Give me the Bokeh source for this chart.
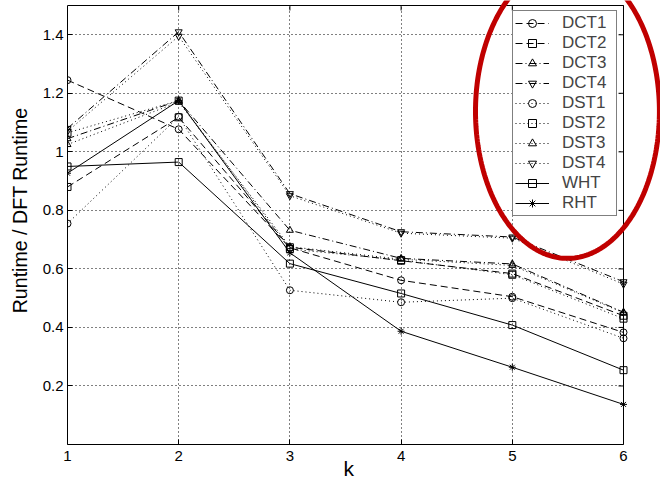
import numpy as np
from bokeh.plotting import figure
from bokeh.models import (Range1d, FixedTicker, CustomJSTickFormatter, Grid, BoxAnnotation,
                          Legend, LegendItem, PolyAnnotation, Title)
from bokeh.embed import file_html
from bokeh.resources import INLINE

# ---- data ----
k = [1, 2, 3, 4, 5, 6]
names = ["DCT1", "DCT2", "DCT3", "DCT4", "DST1", "DST2", "DST3", "DST4", "WHT", "RHT"]
dct1 = [1.245, 1.077, 0.672, 0.561, 0.505, 0.383]
dct2 = [0.880, 1.118, 0.674, 0.628, 0.584, 0.440]
dct3 = [1.045, 1.175, 0.732, 0.636, 0.617, 0.452]
dct4 = [1.080, 1.410, 0.857, 0.727, 0.709, 0.556]
dst1 = [0.755, 1.120, 0.527, 0.486, 0.500, 0.363]
dst2 = [1.065, 1.175, 0.668, 0.630, 0.580, 0.430]
dst3 = [1.025, 1.170, 0.676, 0.633, 0.612, 0.450]
dst4 = [1.070, 1.395, 0.850, 0.722, 0.705, 0.548]
wht = [0.950, 0.965, 0.618, 0.516, 0.408, 0.254]
rht = [0.927, 1.175, 0.655, 0.387, 0.264, 0.137]
values = [dct1, dct2, dct3, dct4, dst1, dst2, dst3, dst4, wht, rht]
x_ticks = [1, 2, 3, 4, 5, 6]
y_ticks = [0.2, 0.4, 0.6, 0.8, 1.0, 1.2, 1.4]
X_MIN, X_MAX, Y_MIN, Y_MAX = 1, 6, 0, 1.5
x_title = "k"
y_title = "Runtime / DFT Runtime"

# ---- layout / styles ----
BOX_W, BOX_H = 556, 439          # pixel size of the axes box
PAD_RIGHT, PAD_TOP = 37, 5       # canvas space right of / above the box
UX = (X_MAX - X_MIN) / BOX_W     # data units per pixel
UY = (Y_MAX - Y_MIN) / BOX_H
DASH = "7 4"
DASHDOT = "7 3 1 3"
DOT = "1 3"
line_dashes = [DASH, DASH, DASHDOT, DASHDOT, DOT, DOT, DOT, DOT, "solid", "solid"]
markers = ["circle", "square", "triangle", "inverted_triangle",
           "circle", "square", "triangle", "inverted_triangle", "square", "asterisk"]
FONT = "Liberation Sans"

# the frame reaches the right and top edges of the canvas so that the red ellipse
# is not cut off; the axes box itself is drawn at [X_MIN, X_MAX] x [Y_MIN, Y_MAX]
p = figure(width=660, height=483, output_backend="svg", toolbar_location=None,
           x_range=Range1d(X_MIN, X_MAX + PAD_RIGHT * UX),
           y_range=Range1d(Y_MIN, Y_MAX + PAD_TOP * UY),
           min_border_left=67, min_border_right=0, min_border_top=0, min_border_bottom=39,
           background_fill_color="white", border_fill_color="white")
p.outline_line_color = None

grid_props = Grid.properties()
for g in (p.xgrid[0], p.ygrid[0]):
    g.grid_line_color = "black"
    g.grid_line_dash = "1 3"
    g.grid_line_width = 1
p.xgrid[0].ticker = FixedTicker(ticks=x_ticks)
p.ygrid[0].ticker = FixedTicker(ticks=y_ticks)
if "cross_bounds" in grid_props:
    p.xgrid[0].cross_bounds = (Y_MIN, Y_MAX)
    p.ygrid[0].cross_bounds = (X_MIN, X_MAX)
else:
    p.add_layout(BoxAnnotation(bottom=Y_MAX, fill_color="white", fill_alpha=1,
                               line_color=None, level="underlay"))
    p.add_layout(BoxAnnotation(left=X_MAX, fill_color="white", fill_alpha=1,
                               line_color=None, level="underlay"))

# top and right edges of the box, with inward ticks
p.segment(x0=[X_MIN, X_MAX], y0=[Y_MAX, Y_MIN], x1=[X_MAX, X_MAX], y1=[Y_MAX, Y_MAX],
          line_color="black", line_width=1)
p.segment(x0=x_ticks, x1=x_ticks, y0=[Y_MAX] * len(x_ticks), y1=[Y_MAX - 5 * UY] * len(x_ticks),
          line_color="black", line_width=1)
p.segment(x0=[X_MAX] * len(y_ticks), x1=[X_MAX - 5 * UX] * len(y_ticks), y0=y_ticks, y1=y_ticks,
          line_color="black", line_width=1)

items = []
for name, vals, dash, mk in zip(names, values, line_dashes, markers):
    lr = p.line(k, vals, line_color="black", line_width=1, line_dash=dash)
    sr = p.scatter(k, vals, marker=mk, size=7, line_color="black", fill_color=None, line_width=1)
    items.append(LegendItem(label=name, renderers=[lr, sr]))

fmt = CustomJSTickFormatter(code="return String(Math.round(tick*10)/10);")

xa = p.xaxis[0]
ya = p.yaxis[0]
xa.ticker = FixedTicker(ticks=x_ticks)
ya.ticker = FixedTicker(ticks=y_ticks)
ya.formatter = fmt
xa.bounds = (X_MIN, X_MAX)
ya.bounds = (Y_MIN, Y_MAX)
for ax in (xa, ya):
    ax.major_tick_in = 5
    ax.major_tick_out = 0
    ax.minor_tick_line_color = None
    ax.axis_line_color = "black"
    ax.major_tick_line_color = "black"
    ax.major_label_text_font = FONT
    ax.major_label_text_font_size = "15px"
    ax.major_label_text_color = "black"
xa.major_label_standoff = 6
ya.major_label_standoff = 4

# axis titles as side-panel titles, so that they can sit off-centre like the original
ylab = Title(text=y_title, align="right", vertical_align="middle", offset=107, standoff=15,
             text_font=FONT, text_font_size="19.6px", text_font_style="normal",
             text_color="black")
p.add_layout(ylab, "left")
xlab = Title(text=x_title, align="left", vertical_align="top", offset=276, standoff=-14,
             text_font=FONT, text_font_size="21px", text_font_style="normal",
             text_color="black")
p.add_layout(xlab, "below")

# legend: left edge 445 px right of the box's left side, bottom 228 px above its bottom
legend = Legend(items=items, location=(445, 228), margin=0, padding=2, spacing=0,
                label_height=20, glyph_height=20, glyph_width=34, label_standoff=13,
                label_width=52,
                label_text_font=FONT, label_text_font_size="17px",
                border_line_color="black", border_line_width=1,
                background_fill_color="white", background_fill_alpha=1.0)
p.add_layout(legend)

# red ellipse drawn around the legend (annotation, in data units)
ELL_CX, ELL_CY, ELL_A, ELL_B = 5.496, 1.138, 0.827, 0.502
theta = np.linspace(0, 2 * np.pi, 241)
ell = PolyAnnotation(xs=list(ELL_CX + ELL_A * np.cos(theta)),
                     ys=list(ELL_CY + ELL_B * np.sin(theta)),
                     xs_units="data", ys_units="data",
                     fill_color=None, fill_alpha=0,
                     line_color="#c00000", line_alpha=1.0, line_width=5)
p.add_layout(ell)

open("out.html", "w").write(file_html(p, INLINE))
